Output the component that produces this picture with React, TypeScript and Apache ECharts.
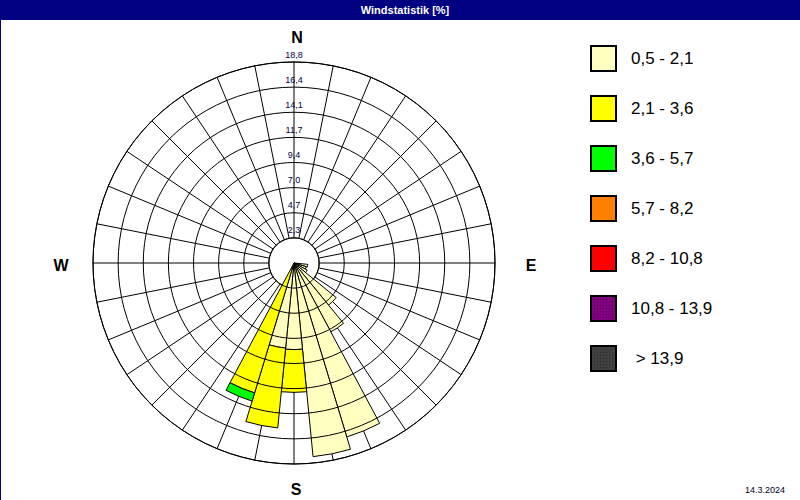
import { useEffect, useRef } from 'react';
import * as echarts from 'echarts';

// 32 compass directions, clockwise from north
const directions = [
  'N', 'NzO', 'NNO', 'NOzN', 'NO', 'NOzO', 'ONO', 'OzN',
  'O', 'OzS', 'OSO', 'SOzO', 'SO', 'SOzS', 'SSO', 'SzO',
  'S', 'SzW', 'SSW', 'SWzS', 'SW', 'SWzW', 'WSW', 'WzS',
  'W', 'WzN', 'WNW', 'NWzW', 'NW', 'NWzN', 'NNW', 'NzW',
];

const speedClasses = ['0,5 - 2,1', '2,1 - 3,6', '3,6 - 5,7', '5,7 - 8,2', '8,2 - 10,8', '10,8 - 13,9', '> 13,9'];
const classColors = ['#FFFFC0', '#FFFF00', '#00FF00', '#FF8000', '#FF0000', '#800080', '#404040'];

const _ = null;
// frequency in % per direction for each speed class
const class1 = [_, _, _, _, _, _, _, _, _, 1.3, 1.2, 1.4, 5.1, 7.3, 17.0, 18.2, 8.1, 8.0, 0.6, _, _, _, _, _, _, _, _, _, _, _, _, _];
const class2 = [_, _, _, _, _, _, _, _, _, _, _, _, _, _, _, _, 4.0, 7.5, 12.1, _, _, _, _, _, _, _, _, _, _, _, _, _];
const class3 = [_, _, _, _, _, _, _, _, _, _, _, _, _, _, _, _, _, _, 0.8, _, _, _, _, _, _, _, _, _, _, _, _, _];
const class4 = directions.map(() => null);
const class5 = directions.map(() => null);
const class6 = directions.map(() => null);
const class7 = directions.map(() => null);
const classData = [class1, class2, class3, class4, class5, class6, class7];

const radiusTickLabels = ['2,3', '4,7', '7,0', '9,4', '11,7', '14,1', '16,4', '18,8'];
const radiusStep = 2.35;
const radiusMax = 18.8;

export default function App() {
  const ref = useRef<HTMLDivElement>(null);
  useEffect(() => {
    if (!ref.current) return;
    const chart = echarts.init(ref.current, null, { renderer: 'svg' });
    const cx = 294;
    const cy = 263;
    const R = 201;
    const innerR = R * radiusStep / radiusMax;
    const font = '"Liberation Sans", Arial, sans-serif';
    const compass = (text: string, x: number, y: number) => ({
      type: 'text', z: 5, x, y,
      style: { text, font: 'bold 16px ' + font, fill: '#000', align: 'center', verticalAlign: 'middle', textAlign: 'center', textVerticalAlign: 'middle' },
    });
    chart.setOption({
      animation: false,
      backgroundColor: '#ffffff',
      title: {
        text: 'Windstatistik [%]',
        left: 405,
        top: 4,
        padding: 0,
        textAlign: 'center',
        textStyle: { color: '#ffffff', fontSize: 11, fontWeight: 'bold', fontFamily: font },
        z: 10,
      },
      graphic: [
        { type: 'rect', z: 1, shape: { x: 0, y: 0, width: 800, height: 20 }, style: { fill: '#000080' } },
        { type: 'rect', z: 1, shape: { x: 0, y: 20, width: 1, height: 480 }, style: { fill: '#000080' } },
        compass('N', 297, 37),
        compass('E', 531, 265),
        compass('S', 296, 489),
        compass('W', 61, 265),
        { type: 'text', z: 5, x: 785, y: 490, style: { text: '14.3.2024', font: '9px ' + font, fill: '#000020', align: 'right', verticalAlign: 'middle', textAlign: 'right', textVerticalAlign: 'middle' } },
      ],
      legend: {
        orient: 'vertical',
        left: 590,
        top: 45,
        padding: 0,
        itemWidth: 25,
        itemHeight: 25,
        itemGap: 23,
        icon: 'rect',
        selectedMode: false,
        data: speedClasses,
        formatter: (name: string) => (name.startsWith('>') ? '\u00a0' + name : name),
        textStyle: { fontSize: 17, fontFamily: font, color: '#000', padding: [0, 0, 0, 10] },
      },
      polar: [
        { center: [cx, cy], radius: [innerR, R] },
        { center: [cx, cy], radius: [0, R] },
      ],
      angleAxis: [
        {
          polarIndex: 0,
          type: 'category',
          data: directions,
          startAngle: 90,
          clockwise: true,
          boundaryGap: true,
          axisLine: { show: true, lineStyle: { color: '#000', width: 1 } },
          axisTick: { show: false, interval: 0 },
          axisLabel: { show: false, interval: 0 },
          splitLine: { show: true, interval: 0, lineStyle: { color: '#000', width: 1 } },
        },
        {
          polarIndex: 1,
          type: 'category',
          data: directions,
          startAngle: 90 + 180 / directions.length,
          clockwise: true,
          boundaryGap: true,
          axisLine: { show: false },
          axisTick: { show: false },
          axisLabel: { show: false },
          splitLine: { show: false },
        },
      ],
      radiusAxis: [
        {
          polarIndex: 0,
          type: 'value',
          min: radiusStep,
          max: radiusMax,
          interval: radiusStep,
          axisLine: { show: false },
          axisTick: { show: false },
          splitLine: { show: true, lineStyle: { color: '#000', width: 1 } },
          axisLabel: {
            show: true,
            formatter: (_v: number, i: number) => radiusTickLabels[i] ?? '',
            align: 'center',
            verticalAlign: 'bottom',
            margin: 0,
            padding: [0, 0, 3, 0],
            fontSize: 9,
            fontFamily: font,
            color: '#000040',
          },
          z: 3,
        },
        {
          polarIndex: 1,
          type: 'value',
          min: 0,
          max: radiusMax,
          show: false,
        },
      ],
      series: speedClasses.map((name, k) => ({
        name,
        type: 'bar',
        coordinateSystem: 'polar',
        polarIndex: 1,
        stack: 'wind',
        barCategoryGap: '0%',
        data: classData[k],
        itemStyle: {
          color: classColors[k],
          borderColor: '#000',
          borderWidth: 1,
          ...(k >= 5
            ? { decal: { symbol: 'rect', symbolSize: 1, dashArrayX: [1, 2], dashArrayY: [1, 2], color: 'rgba(0,0,0,0.35)' } }
            : {}),
        },
      })),
    });
    return () => chart.dispose();
  }, []);
  return <div ref={ref} style={{ position: 'fixed', left: 0, top: 0, width: 800, height: 500 }} />;
}
